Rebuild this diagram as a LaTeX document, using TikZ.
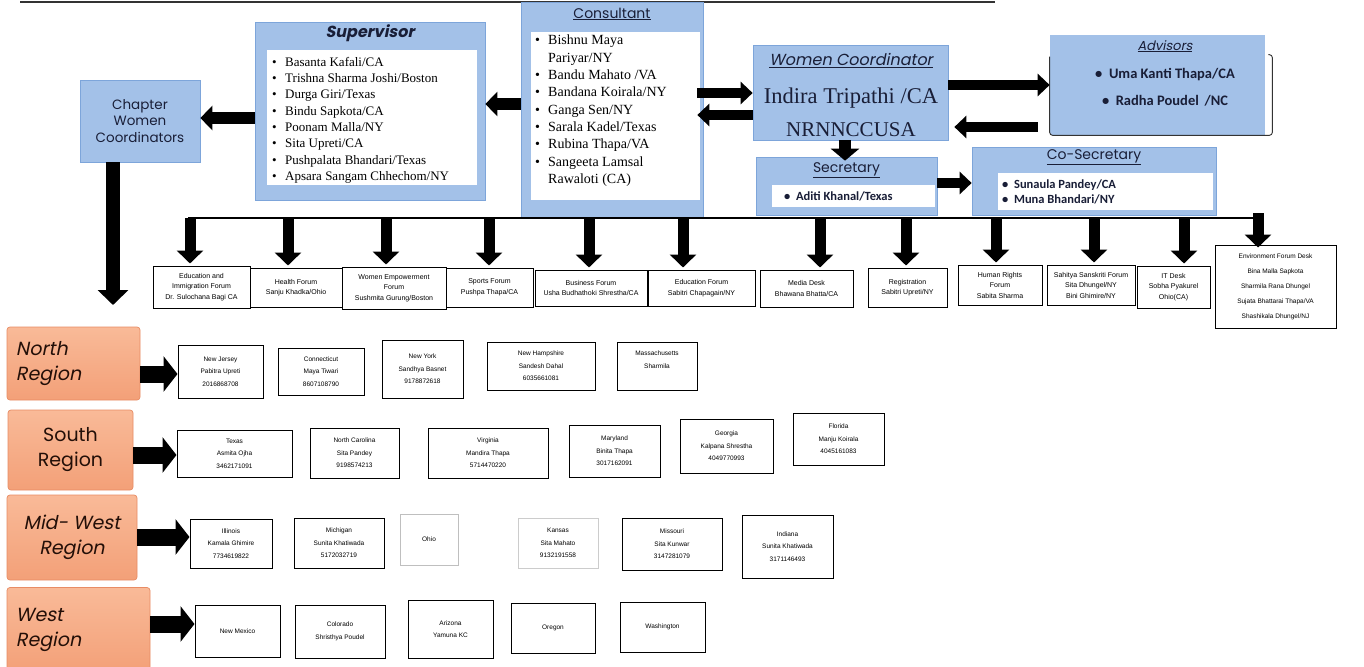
\documentclass[tikz,border=0pt]{standalone}
\usepackage{fontspec}
\setmainfont{Liberation Serif}
\setsansfont{Liberation Sans}
\newfontfamily\gothic{Poppins}
\newfontfamily\gothicit[FakeSlant=0.2]{Poppins}
\newfontfamily\calfont{Carlito}
\usetikzlibrary{arrows.meta}
\definecolor{boxblue}{RGB}{163,193,232}
\definecolor{boxedge}{RGB}{125,165,218}
\definecolor{regorange}{RGB}{243,160,120}
\definecolor{regtop}{RGB}{249,186,152}
\definecolor{regedge}{RGB}{232,140,100}
\definecolor{regtext}{RGB}{35,15,8}
\definecolor{navy}{RGB}{25,30,55}
\newcommand\fs[2]{\fontsize{#1}{#2}\selectfont}
\newcommand\bl{\makebox[13pt][l]{\textbullet}}
\newcommand\nbl{\makebox[13pt][l]{}}
\begin{document}
\begin{tikzpicture}[x=1pt,y=-1pt,
  bluebox/.style={fill=boxblue, draw=boxedge, line width=0.7pt, inner sep=0pt},
  panel/.style={fill=white, inner sep=0pt},
  listtext/.style={inner sep=0pt, align=left, anchor=north west},
  regbox/.style={top color=regtop, bottom color=regorange, draw=regedge, line width=0.7pt, rounded corners=3pt, inner sep=0pt, text=regtext},
  cell/.style={draw=black, line width=1pt, fill=white, inner sep=1pt, align=center, font=\sffamily\fs{7}{10.5}},
  rcell/.style={draw=black, line width=1pt, fill=white, inner sep=1pt, align=center, font=\sffamily\fs{6.5}{12.5}},
  harrow/.style={line width=10pt, -{Triangle[width=22pt,length=12pt]}},
  varrow/.style={line width=11pt, -{Triangle[width=26pt,length=13pt]}},
  regarrow/.style={line width=17pt, -{Triangle[width=35pt,length=14pt]}}
]
\fill[white] (0,0) rectangle (1364,666);
\useasboundingbox (0,0) rectangle (1364,666);
\draw[black!80, line width=2.5pt] (20,2) -- (995,2);

% Chapter women coordinators
\node[bluebox, minimum width=120, minimum height=82, align=center, text=navy,
  font=\gothic\fs{13.5}{16.5}] (chap) at (140,121) {Chapter\\Women\\Coordinators};

% Supervisor
\node[bluebox, minimum width=230, minimum height=178] (sup) at (370,111) {};
\node[font=\gothicit\bfseries\fs{16}{18}, text=navy] (suptitle) at (370,33) {Supervisor};
\node[panel, anchor=north west, minimum width=210, minimum height=135] (suppanel) at (267,50) {};
\node[listtext, font=\fs{13}{16.3}] (suplist) at (272,57)
 {\bl Basanta Kafali/CA\\
  \bl Trishna Sharma Joshi/Boston\\
  \bl Durga Giri/Texas\\
  \bl Bindu Sapkota/CA\\
  \bl Poonam Malla/NY\\
  \bl Sita Upreti/CA\\
  \bl Pushpalata Bhandari/Texas\\
  \bl Apsara Sangam Chhechom/NY};

% Consultant
\node[bluebox, minimum width=182, minimum height=215] (con) at (612,109.5) {};
\node[font=\gothic\fs{14}{16}, text=navy] (contitle) at (612,14) {\underline{Consultant}};
\node[panel, anchor=north west, minimum width=169, minimum height=168] (conpanel) at (531,32) {};
\node[listtext, font=\fs{14}{17.3}] (conlist) at (535,35)
 {\bl Bishnu Maya\\
  \nbl Pariyar/NY\\
  \bl Bandu Mahato /VA\\
  \bl Bandana Koirala/NY\\
  \bl Ganga Sen/NY\\
  \bl Sarala Kadel/Texas\\
  \bl Rubina Thapa/VA\\
  \bl Sangeeta Lamsal\\
  \nbl Rawaloti (CA)};

% Women coordinator
\node[bluebox, minimum width=195, minimum height=95] (wc) at (850.5,92.5) {};
\node[align=center, text=navy, inner sep=0pt, anchor=north] (wctext) at (851,53)
 {{\gothicit\fs{16}{18}\underline{Women Coordinator}}\\[19pt]
  {\fs{22.5}{26}Indira Tripathi /CA}\\[14pt]
  {\fs{21}{26}NRNNCCUSA}};

% Advisors
\node[bluebox, draw=none, minimum width=215, minimum height=100] (adv) at (1157.5,85) {};
\node[align=center, text=navy, inner sep=0pt, anchor=north] (advtext) at (1165,40)
 {{\gothicit\fs{13}{15}\underline{Advisors}}\\[15pt]
  {\calfont\bfseries\fs{14.5}{16}\textbullet\ \ Uma Kanti Thapa/CA}\\[14pt]
  {\calfont\bfseries\fs{14.5}{16}\textbullet\ \ Radha Poudel \,/NC}};
\draw[black!80, line width=0.9pt, rounded corners=3pt]
  ([yshift=-22pt]adv.north west) -- (adv.south west) -- ([xshift=7pt]adv.south east)
  -- ([xshift=7pt,yshift=-20pt]adv.north east) -- ([xshift=3pt,yshift=-20pt]adv.north east);

% Secretary
\node[bluebox, minimum width=181, minimum height=58] (sec) at (846.5,186) {};
\node[font=\gothic\fs{14}{16}, text=navy] (sectitle) at (846.5,170) {\underline{Secretary}};
\node[panel, anchor=north west, minimum width=163, minimum height=22] (secpanel) at (772,185) {};
\node[listtext, anchor=west, font=\calfont\bfseries\fs{12.5}{14}, text=navy] (seclist) at (784,196)
 {\textbullet\ \ Aditi Khanal/Texas};

% Co-Secretary
\node[bluebox, minimum width=244, minimum height=68] (cosec) at (1094,181) {};
\node[font=\gothic\fs{14}{16}, text=navy] (cosectitle) at (1094,157) {\underline{Co-Secretary}};
\node[panel, anchor=north west, minimum width=215, minimum height=37] (cosecpanel) at (998,173) {};
\node[listtext, anchor=west, font=\calfont\bfseries\fs{12.5}{15}, text=navy] (coseclist) at (1002,191.5)
 {\textbullet\ \ Sunaula Pandey/CA\\\textbullet\ \ Muna Bhandari/NY};

% arrows among top boxes
\draw[harrow, line width=12pt, -{Triangle[width=24pt,length=12pt]}] (sup.west |- 0,118) -- (chap.east |- 0,118);
\draw[harrow, line width=12pt, -{Triangle[width=24pt,length=12pt]}] (con.west |- 0,104) -- (sup.east |- 0,104);
\draw[harrow] ([xshift=-6pt]con.east |- 0,93) -- (wc.west |- 0,93);
\draw[harrow] (wc.west |- 0,115) -- ([xshift=-6pt]con.east |- 0,115);
\draw[harrow] (wc.east |- 0,85) -- (adv.west |- 0,85);
\draw[harrow] ([xshift=-12pt]adv.west |- 0,127) -- ([xshift=6pt]wc.east |- 0,127);
\draw[harrow, line width=12pt, -{Triangle[width=28pt,length=12pt]}] (wc.south -| 845,0) -- ([yshift=-4pt]sec.north -| 845,0);
\draw[harrow] (sec.east |- 0,183) -- (cosec.west |- 0,183);

% Chapter down arrow
\coordinate (chapend) at (113,305);
\draw[varrow, line width=14pt, -{Triangle[width=30pt,length=15pt]}] (chap.south -| chapend) -- (chapend);

% distribution bus
\coordinate (busl) at (188,218);
\coordinate (busr) at (1258,218);
\draw[black, line width=1.2pt] (busl) -- (busr);

% row cells
\node[cell, minimum width=97, minimum height=42] (r1) at (201.5,287) {Education and\\Immigration Forum\\Dr. Sulochana Bagi CA};
\node[cell, minimum width=92, minimum height=39] (r2) at (296,287.5) {Health Forum\\Sanju Khadka/Ohio};
\node[cell, minimum width=104, minimum height=42] (r3) at (394,288) {Women Empowerment\\Forum\\Sushmita Gurung/Boston};
\node[cell, minimum width=87, minimum height=39] (r4) at (489.5,287.5) {Sports Forum\\Pushpa Thapa/CA};
\node[cell, minimum width=112, minimum height=36] (r5) at (591,288) {Business Forum\\Usha Budhathoki Shrestha/CA};
\node[cell, minimum width=107, minimum height=36] (r6) at (701.5,288) {Education Forum\\Sabitri Chapagain/NY};
\node[cell, minimum width=93, minimum height=37] (r7) at (806.5,288.5) {Media Desk\\Bhawana Bhatta/CA};
\node[cell, minimum width=79, minimum height=39] (r8) at (907.5,287.5) {Registration\\Sabitri Upreti/NY};
\node[cell, minimum width=84, minimum height=40] (r9) at (1000,285) {Human Rights\\Forum\\Sabita Sharma};
\node[cell, minimum width=88, minimum height=40] (r10) at (1091,285) {Sahitya Sanskriti Forum\\Sita Dhungel/NY\\Bini Ghimire/NY};
\node[cell, minimum width=73, minimum height=42] (r11) at (1173.5,287) {IT Desk\\Sobha Pyakurel\\Ohio(CA)};
\node[cell, minimum width=121, minimum height=83, font=\sffamily\fs{6.5}{15}] (r12) at (1275.5,286.5) {Environment Forum Desk\\Bina Malla Sapkota\\Sharmila Rana Dhungel\\Sujata Bhattarai Thapa/VA\\Shashikala Dhungel/NJ};

\foreach \n/\x in {r1/190,r2/288,r3/386,r4/489,r5/589,r6/683,r7/820,r8/906,r9/996,r10/1094,r11/1184}
  \draw[varrow] (busl -| \x,0) -- ([yshift=2pt]\n.north -| \x,0);
\draw[varrow] ([yshift=5pt]busr) -- ([yshift=-3pt]r12.north -| busr);

% regions
\node[regbox, minimum width=133, minimum height=73, align=left, text width=115, font=\gothicit\fs{19}{25}] (north) at (73.5,363.5) {North\\Region};
\node[regbox, minimum width=125, minimum height=80, align=center, font=\gothic\fs{19}{25}] (south) at (70.5,450) {South\\Region};
\node[regbox, minimum width=130, minimum height=85, align=center, font=\gothicit\fs{19}{25}] (midwest) at (72,537.5) {Mid- West\\Region};
\node[regbox, minimum width=143, minimum height=85, align=left, text width=125, font=\gothicit\fs{19}{25}] (west) at (78.5,630) {West\\Region};

% north cells
\node[rcell, minimum width=85, minimum height=53] (n1) at (220.5,371.5) {New Jersey\\Pabitra Upreti\\2016868708};
\node[rcell, minimum width=86, minimum height=47] (n2) at (321,371.5) {Connecticut\\Maya Tiwari\\8607108790};
\node[rcell, minimum width=81, minimum height=58] (n3) at (422.5,369) {New York\\Sandhya Basnet\\9178872618};
\node[rcell, minimum width=108, minimum height=48] (n4) at (541,366) {New Hampshire\\Sandesh Dahal\\6035661081};
\node[rcell, minimum width=80, minimum height=48] (n5) at (657,366) {Massachusetts\\Sharmila\\ };
% south cells
\node[rcell, minimum width=115, minimum height=47] (s1) at (234.5,453.5) {Texas\\Asmita Ojha\\3462171091};
\node[rcell, minimum width=89, minimum height=50] (s2) at (354.5,453) {North Carolina\\Sita Pandey\\9198574213};
\node[rcell, minimum width=120, minimum height=50] (s3) at (488,453) {Virginia\\Mandira Thapa\\5714470220};
\node[rcell, minimum width=91, minimum height=52] (s4) at (614.5,451) {Maryland\\Binita Thapa\\3017162091};
\node[rcell, minimum width=93, minimum height=54] (s5) at (726.5,446) {Georgia\\Kalpana Shrestha\\4049770993};
\node[rcell, minimum width=91, minimum height=52] (s6) at (838.5,439) {Florida\\Manju Koirala\\4045161083};
% mid-west cells
\node[rcell, minimum width=82, minimum height=49] (m1) at (231,543.5) {Illinois\\Kamala Ghimire\\7734619822};
\node[rcell, minimum width=90, minimum height=50] (m2) at (339,543) {Michigan\\Sunita Khatiwada\\5172032719};
\node[rcell, draw=black!25, minimum width=58, minimum height=51] (m3) at (429,539.5) {Ohio};
\node[rcell, draw=black!20, minimum width=80, minimum height=50] (m4) at (558,543) {Kansas\\Sita Mahato\\9132191558};
\node[rcell, minimum width=100, minimum height=52] (m5) at (672,544) {Missouri\\Sita Kunwar\\3147281079};
\node[rcell, minimum width=91, minimum height=63] (m6) at (787.5,546.5) {Indiana\\Sunita Khatiwada\\3171146493};
% west cells
\node[rcell, minimum width=85, minimum height=52] (w1) at (237.5,631) {New Mexico};
\node[rcell, minimum width=90, minimum height=53] (w2) at (340,631.5) {Colorado\\Shristhya Poudel};
\node[rcell, minimum width=85, minimum height=58] (w3) at (450.5,629) {Arizona\\Yamuna KC};
\node[rcell, minimum width=84, minimum height=50] (w4) at (553,628) {Oregon};
\node[rcell, minimum width=85, minimum height=50] (w5) at (662.5,627) {Washington};

% region arrows
\draw[regarrow] (north.east |- 0,374) -- (n1.west |- 0,374);
\draw[regarrow] (south.east |- 0,455) -- (s1.west |- 0,455);
\draw[regarrow] (midwest.east |- 0,537) -- (m1.west |- 0,537);
\draw[regarrow] (west.east |- 0,624) -- (w1.west |- 0,624);
\end{tikzpicture}
\end{document}
